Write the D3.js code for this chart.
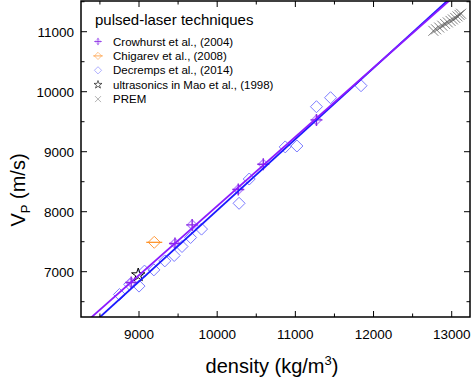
<!DOCTYPE html>
<html>
<head>
<meta charset="utf-8">
<script src="https://cdn.jsdelivr.net/npm/d3@7"></script>
<style>
  body { margin: 0; background: #fff; }
  svg { font-family: "Liberation Sans", Arial, sans-serif; }
</style>
</head>
<body>
<svg id="chart" width="473" height="380"></svg>
<script>
// data (density kg/m3, Vp m/s)
var crowhurst = [[8900, 6820], [9460, 7470], [9680, 7780], [10270, 8370], [10590, 8790], [11270, 9530]];
var chigarev = [[9195, 7490]];
var decremps = [[8750, 6620], [8880, 6790], [9000, 6760], [9070, 7010], [9190, 7030], [9330, 7180],
                [9450, 7270], [9550, 7420], [9660, 7570], [9800, 7710], [10280, 8140], [10410, 8545],
                [10870, 9080], [11020, 9095], [11270, 9750], [11450, 9900], [11840, 10100]];
var mao = [[8990, 6945]];
var prem = [[12765, 11015], [12800, 11040], [12840, 11070], [12880, 11100], [12915, 11130], [12950, 11155],
            [12985, 11180], [13015, 11205], [13045, 11230], [13075, 11255], [13100, 11280], [13120, 11300]];
// linear fits: [slope, intercept]
var fitPurple = [1.1527, -3432];
var fitBlue = [1.1864, -3841];

var xTicks = [9000, 10000, 11000, 12000, 13000];
var yTicks = [7000, 8000, 9000, 10000, 11000];

var legendItems = [
  {label: "Crowhurst et al., (2004)", type: "crow"},
  {label: "Chigarev et al., (2008)", type: "chig"},
  {label: "Decremps et al., (2014)", type: "dec"},
  {label: "ultrasonics in Mao et al., (1998)", type: "mao"},
  {label: "PREM", type: "prem"}
];

var svg = d3.select("#chart");
var pLeft = 81, pRight = 470, pTop = 1, pBottom = 317;

var x = d3.scaleLinear().domain([8258, 13234]).range([pLeft, pRight]);
var y = d3.scaleLinear().domain([6245, 11512]).range([pBottom, pTop]);

svg.append("clipPath").attr("id", "clip")
  .append("rect").attr("x", pLeft).attr("y", pTop).attr("width", pRight - pLeft).attr("height", pBottom - pTop);

var plot = svg.append("g").attr("clip-path", "url(#clip)");

// ticks (inward) on all four sides
var minorX = d3.range(8500, 13500, 500);
var minorY = d3.range(6500, 11600, 500);
var ticksG = svg.append("g").attr("stroke", "#000").attr("stroke-width", 1);
minorX.forEach(function (v) {
  var len = (v % 1000 === 0) ? 6 : 3.5;
  ticksG.append("line").attr("x1", x(v)).attr("x2", x(v)).attr("y1", pBottom).attr("y2", pBottom - len);
  ticksG.append("line").attr("x1", x(v)).attr("x2", x(v)).attr("y1", pTop).attr("y2", pTop + len);
});
minorY.forEach(function (v) {
  if (y(v) < pTop) return;
  var len = (v % 1000 === 0) ? 6 : 3.5;
  ticksG.append("line").attr("y1", y(v)).attr("y2", y(v)).attr("x1", pLeft).attr("x2", pLeft + len);
  ticksG.append("line").attr("y1", y(v)).attr("y2", y(v)).attr("x1", pRight).attr("x2", pRight - len);
});

svg.append("g").selectAll("text").data(xTicks).join("text")
  .attr("x", d => x(d)).attr("y", 339).attr("text-anchor", "middle")
  .attr("font-size", "13.5px").text(d => d);
svg.append("g").selectAll("text").data(yTicks).join("text")
  .attr("x", 74).attr("y", d => y(d) + 5).attr("text-anchor", "end")
  .attr("font-size", "13.5px").text(d => d);

// fit lines
function fitLine(f, color) {
  var d0 = 8000, d1 = 13500;
  plot.append("line")
    .attr("x1", x(d0)).attr("y1", y(f[0] * d0 + f[1]))
    .attr("x2", x(d1)).attr("y2", y(f[0] * d1 + f[1]))
    .attr("stroke", color).attr("stroke-width", 1.8);
}

// markers
function marker(g, type, cx, cy) {
  if (type === "dec") {
    g.append("path").attr("d", `M${cx},${cy - 6}L${cx + 6},${cy}L${cx},${cy + 6}L${cx - 6},${cy}Z`)
      .attr("fill", "none").attr("stroke", "#7b7bff").attr("stroke-width", 1);
  } else if (type === "crow") {
    g.append("path").attr("d", `M${cx},${cy - 5}L${cx + 5},${cy}L${cx},${cy + 5}L${cx - 5},${cy}Z`)
      .attr("fill", "none").attr("stroke", "#b98aff").attr("stroke-width", 1.2);
    g.append("path").attr("d", `M${cx - 6},${cy}H${cx + 6}M${cx},${cy - 6}V${cy + 6}`)
      .attr("stroke", "#8a2be2").attr("stroke-width", 1.4);
  } else if (type === "chig") {
    g.append("path").attr("d", `M${cx},${cy - 6}L${cx + 6},${cy}L${cx},${cy + 6}L${cx - 6},${cy}Z`)
      .attr("fill", "none").attr("stroke", "#ff9a3c").attr("stroke-width", 1);
    g.append("path").attr("d", `M${cx - 8},${cy}H${cx + 8}`)
      .attr("stroke", "#ff8c1a").attr("stroke-width", 1.2);
  } else if (type === "mao") {
    g.append("path").attr("d", d3.symbol().type(d3.symbolStar).size(55)())
      .attr("transform", `translate(${cx},${cy})`)
      .attr("fill", "none").attr("stroke", "#000").attr("stroke-width", 1);
  } else if (type === "prem") {
    g.append("path").attr("d", `M${cx - 5},${cy - 5}L${cx + 5},${cy + 5}M${cx - 5},${cy + 5}L${cx + 5},${cy - 5}`)
      .attr("stroke", "#555").attr("stroke-opacity", 0.75).attr("stroke-width", 1);
  }
}

var pts = plot.append("g");
decremps.forEach(p => marker(pts, "dec", x(p[0]), y(p[1])));
fitLine(fitBlue, "#1a1aff");
fitLine(fitPurple, "#8c1aff");
chigarev.forEach(p => marker(pts, "chig", x(p[0]), y(p[1])));
crowhurst.forEach(p => marker(pts, "crow", x(p[0]), y(p[1])));
mao.forEach(p => marker(pts, "mao", x(p[0]), y(p[1])));
prem.forEach(p => marker(pts, "prem", x(p[0]), y(p[1])));

// frame
svg.append("rect").attr("x", pLeft).attr("y", pTop).attr("width", pRight - pLeft).attr("height", pBottom - pTop)
  .attr("fill", "none").attr("stroke", "#000").attr("stroke-width", 1.5);

// legend
var lg = svg.append("g");
lg.append("text").attr("x", 95).attr("y", 25).attr("font-size", "15px").text("pulsed-laser techniques");
legendItems.forEach(function (it, i) {
  var ly = 41.5 + i * 14.4;
  var s = lg.append("g").attr("transform", `translate(98,${ly}) scale(0.6)`);
  marker(s, it.type, 0, 0);
  lg.append("text").attr("x", 113).attr("y", ly + 4).attr("font-size", "11.5px").text(it.label);
});

// axis titles
var xt = svg.append("text").attr("x", 272).attr("y", 373).attr("text-anchor", "middle").attr("font-size", "20px");
xt.append("tspan").text("density (kg/m");
xt.append("tspan").attr("font-size", "13px").attr("dy", -8).text("3");
xt.append("tspan").attr("dy", 8).text(")");

var yt = svg.append("text").attr("transform", "translate(25,190) rotate(-90)").attr("text-anchor", "middle").attr("font-size", "20px");
yt.append("tspan").text("V");
yt.append("tspan").attr("font-size", "13px").attr("dy", 5).text("P");
yt.append("tspan").attr("dy", -5).text(" (m/s)");
</script>
</body>
</html>
